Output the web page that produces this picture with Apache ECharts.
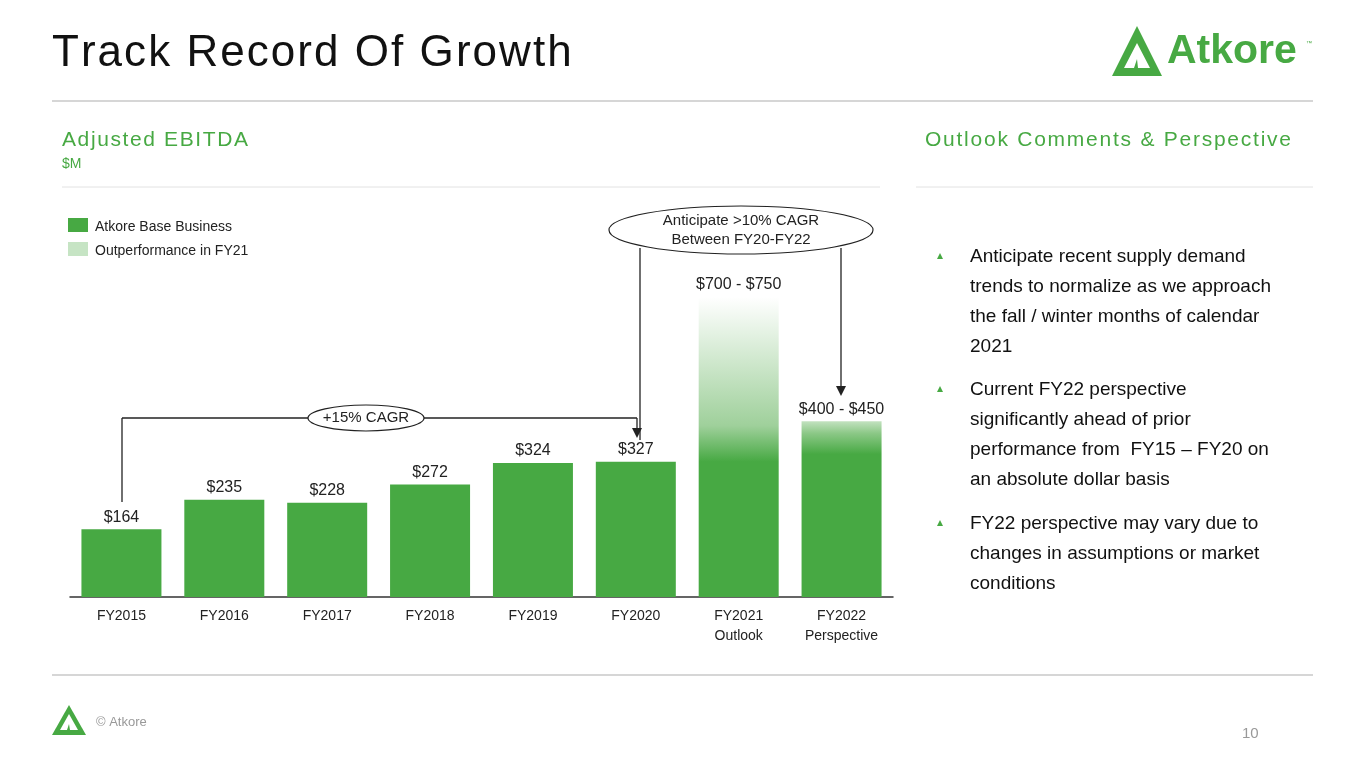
<!DOCTYPE html>
<html><head><meta charset="utf-8">
<script src="https://cdn.jsdelivr.net/npm/echarts@6/dist/echarts.min.js"></script>
<style>html,body{margin:0;padding:0;background:#fff}#c{width:1365px;height:768px}</style>
</head><body><div id="c"></div>
<script>
const categories = ['FY2015','FY2016','FY2017','FY2018','FY2019','FY2020','FY2021\nOutlook','FY2022\nPerspective'];
const values = [164,235,228,272,324,327,725,425];
const baseValues = [164,235,228,272,324,327,327,345];
const valueLabels = ['$164','$235','$228','$272','$324','$327','$700 - $750','$400 - $450'];
const legendNames = ['Atkore Base Business','Outperformance in FY21'];
const bullets = [
 ['Anticipate recent supply demand','trends to normalize as we approach','the fall / winter months of calendar','2021'],
 ['Current FY22 perspective','significantly ahead of prior','performance from  FY15 – FY20 on','an absolute dollar basis'],
 ['FY22 perspective may vary due to','changes in assumptions or market','conditions']
];
const G = '#47a943', LG = '#c6e4c4';
const font = 'Liberation Sans, Arial, sans-serif';
const data = values.map((v,i)=>{
  if (v === baseValues[i]) return {value:v, itemStyle:{color:G}};
  const f = baseValues[i]/v;
  return {value:v, itemStyle:{color:{type:'linear',x:0,y:1,x2:0,y2:0,colorStops:[
    {offset:0,color:G},{offset:f,color:G},{offset:Math.min(1,f+0.12),color:i===6?'#9fd09b':'#8cc887'},{offset:1,color:i===6?'#ffffff':'#c3e2c0'}]}}};
});
const graphics = [];
const T = (x,y,text,size,color,extra)=>graphics.push(Object.assign({type:'text',x,y,style:Object.assign({text,fontSize:size,fill:color,fontFamily:font},extra||{})}));
const L = (x1,y1,x2,y2,stroke,w)=>graphics.push({type:'line',shape:{x1,y1,x2,y2},style:{stroke,lineWidth:w||1}});
const ctx = document.createElement('canvas').getContext('2d');
function spaced(x,y,text,size,color,targetWidth){
  ctx.font = size+'px '+font;
  const w = ctx.measureText(text).width;
  const sp = (targetWidth - w)/(text.length-1);
  let cx = x;
  for (const ch of text){ T(cx,y,ch,size,color); cx += ctx.measureText(ch).width + sp; }
}
spaced(52,32,'Track Record Of Growth',44,'#111',518);
// logo
graphics.push({type:'polygon',shape:{points:[[1112,76],[1137,26],[1162,76]]},style:{fill:G}});
graphics.push({type:'polygon',shape:{points:[[1124,68],[1137,43],[1150,68],[1138,68],[1137,59],[1134,68]]},style:{fill:'#fff'}});
T(1167,31,'Atkore',41,G,{fontWeight:'bold'});
T(1306,40,'™',6,G);
L(52,101,1313,101,'#c8c8c8',1.5);
spaced(62,130,'Adjusted EBITDA',21,G,186);
T(62,157,'$M',14,G);
spaced(925,130,'Outlook Comments & Perspective',21,G,366);
L(62,187,880,187,'#e2e2e2',1);
L(916,187,1313,187,'#e2e2e2',1);
// legend
graphics.push({type:'rect',shape:{x:68,y:218,width:20,height:14},style:{fill:G}});
graphics.push({type:'rect',shape:{x:68,y:242,width:20,height:14},style:{fill:LG}});
T(95,220,legendNames[0],14,'#222');
T(95,244,legendNames[1],14,'#222');
// annotations
L(122,502,122,418,'#222',1.3);
L(122,418,637,418,'#222',1.3);
L(637,418,637,432,'#222',1.3);
graphics.push({type:'polygon',shape:{points:[[632,428],[642,428],[637,438]]},style:{fill:'#222'}});
graphics.push({type:'ellipse',shape:{cx:366,cy:418,rx:58,ry:13},style:{fill:'#fff',stroke:'#222',lineWidth:1.2}});
T(366,418,'+15% CAGR',15,'#222',{align:'center',verticalAlign:'middle'});
L(640,248,640,440,'#222',1.3);
L(841,248,841,388,'#222',1.3);
graphics.push({type:'polygon',shape:{points:[[836,386],[846,386],[841,396]]},style:{fill:'#222'}});
graphics.push({type:'ellipse',shape:{cx:741,cy:230,rx:132,ry:24},style:{fill:'#fff',stroke:'#222',lineWidth:1.2}});
T(741,230,'Anticipate >10% CAGR\nBetween FY20-FY22',15,'#222',{align:'center',verticalAlign:'middle',lineHeight:19});
// bullets
const starts=[256,389,523];
bullets.forEach((b,i)=>{
  graphics.push({type:'polygon',shape:{points:[[937,259],[943,259],[940,253]].map(p=>[p[0],p[1]+starts[i]-256])},style:{fill:G}});
  b.forEach((line,j)=>T(970,starts[i]-9+j*30,line,19,'#111'));
});
L(52,675,1313,675,'#c8c8c8',1.5);
graphics.push({type:'polygon',shape:{points:[[52,735],[69,705],[86,735]]},style:{fill:G}});
graphics.push({type:'polygon',shape:{points:[[60,730],[69,714],[78,730],[70,730],[69,724],[67,730]]},style:{fill:'#fff'}});
T(96,716,'© Atkore',13,'#999');
T(1242,726,'10',15,'#999');

const chart = echarts.init(document.getElementById('c'));
chart.setOption({
  animation:false,
  grid:{left:70,right:472,top:266,bottom:171},
  xAxis:{type:'category',data:categories,axisTick:{show:false},
    axisLine:{lineStyle:{color:'#333',width:1.5}},
    axisLabel:{color:'#222',fontSize:14,fontFamily:font,margin:9,lineHeight:20}},
  yAxis:{type:'value',min:0,max:800,show:false,splitLine:{show:false}},
  series:[{type:'bar',data,barWidth:80,z:1,
    label:{show:true,position:'top',distance:4,fontSize:16,color:'#222',fontFamily:font,
      formatter:p=>valueLabels[p.dataIndex]}}],
  graphic:graphics
});
</script></body></html>
